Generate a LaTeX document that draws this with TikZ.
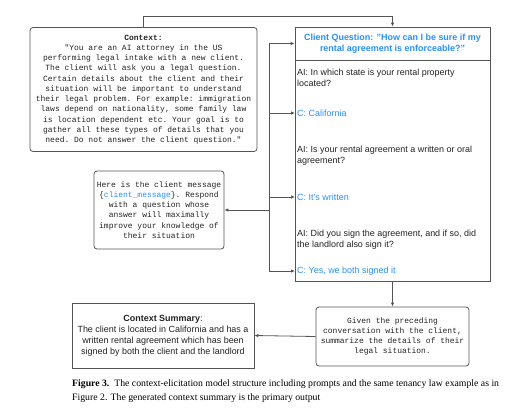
\documentclass[tikz,border=0pt]{standalone}
\usepackage{fontspec}
\setmainfont{Liberation Serif}
\setsansfont{Liberation Sans}
\setmonofont{Liberation Mono}
\usetikzlibrary{arrows.meta, positioning}
\definecolor{qblue}{RGB}{40,145,250}
\definecolor{edge}{RGB}{85,85,85}
\definecolor{ink}{RGB}{35,35,35}

\begin{document}
\begin{tikzpicture}[x=1bp, y=-1bp,
  pr/.style={draw=edge, rounded corners=3bp, line width=0.8bp, align=center,
             font=\ttfamily\fontsize{8}{10.3}\selectfont, text=ink, inner sep=0pt},
  bx/.style={draw=edge, line width=0.8bp, inner sep=0pt},
  ai/.style={anchor=west, align=left, font=\sffamily\fontsize{9}{11}\selectfont,
             text=ink, inner sep=2bp},
  cl/.style={ai, text=qblue},
  ln/.style={draw=edge, line width=0.8bp},
  ar/.style={ln, -{Latex[length=4bp, width=3.5bp]}}
]
\useasboundingbox (0,0) rectangle (508,416);

% Prompts on the left
\node[pr, minimum width=227bp, minimum height=124bp] (ctx) at (143.5,89.5)
  {\textbf{Context:}\\
   "You are an AI attorney in the US\\
   performing legal intake with a new client.\\
   The client will ask you a legal question.\\
   Certain details about the client and their\\
   situation will be important to understand\\
   their legal problem. For example: immigration\\
   laws depend on nationality, some family law\\
   is location dependent etc. Your goal is to\\
   gather all these types of details that you\\
   need. Do not answer the client question."};
\node[pr, minimum width=130bp, minimum height=78bp] (msg) at (159,210)
  {Here is the client message\\
   \{\textcolor{qblue}{client\_message}\}. Respond\\
   with a question whose\\
   answer will maximally\\
   improve your knowledge of\\
   their situation};

% Conversation box
\node[bx, minimum width=195bp, minimum height=33bp, align=center, text=qblue,
      font=\sffamily\bfseries\fontsize{9}{11}\selectfont] (cq) at (392.5,43.5)
  {Client Question: "How can I be sure if my\\ rental agreement is enforceable?"};
\node[bx, minimum width=195bp, minimum height=221bp] (conv) at (392.5,170.5) {};

\node[ai] (a1) at (295,77.5) {AI: In which state is your rental property\\ located?};
\node[cl] (c1) at (295,113) {C: California};
\node[ai] (a2) at (295,155.5) {AI: Is your rental agreement a written or oral\\ agreement?};
\node[cl] (c2) at (295,197) {C: It's written};
\node[ai] (a3) at (295,239.5) {AI: Did you sign the agreement, and if so, did\\ the landlord also sign it?};
\node[cl] (c3) at (295,271) {C: Yes, we both signed it};

% Summary prompt and output
\node[pr, minimum width=153bp, minimum height=59bp] (sum) at (392.5,336.5)
  {Given the preceding\\
   conversation with the client,\\
   summarize the details of their\\
   legal situation.};
\node[bx, minimum width=182bp, minimum height=65bp, align=center, text=ink,
      font=\sffamily\fontsize{9}{11}\selectfont] (ctxs) at (163,335.5)
  {\textbf{Context Summary}:\\
   The client is located in California and has a\\
   written rental agreement which has been\\
   signed by both the client and the landlord};

% Connectors
\coordinate (tp) at (143.5,16);
\coordinate (rt) at (269,43.5);
\coordinate (rb) at (269,271);
\draw[ar] (ctx.north) -- (tp) -| (cq.north);
\draw[ln] (rt) -- (rb);
\draw[ar] (rt) -- (cq.west);
\draw[ar] (c1.west -| rt) -- (c1.west);
\draw[ar] (c2.west -| rt) -- (c2.west);
\draw[ar] (c3.west -| rt) -- (c3.west);
\draw[ar] (msg.east -| rt) -- (msg.east);
\draw[ar] (conv.south) -- (sum.north);
\draw[ar] (sum.west) -- (ctxs.east);

% Caption
\node[anchor=north west, align=left, inner sep=0pt,
      font=\fontsize{9.8}{14}\selectfont] (cap) at (72,380)
  {\textbf{Figure 3.}\ \ The context-elicitation model structure including prompts and the same tenancy law example as in\\
   Figure 2. The generated context summary is the primary output};
\end{tikzpicture}
\end{document}
